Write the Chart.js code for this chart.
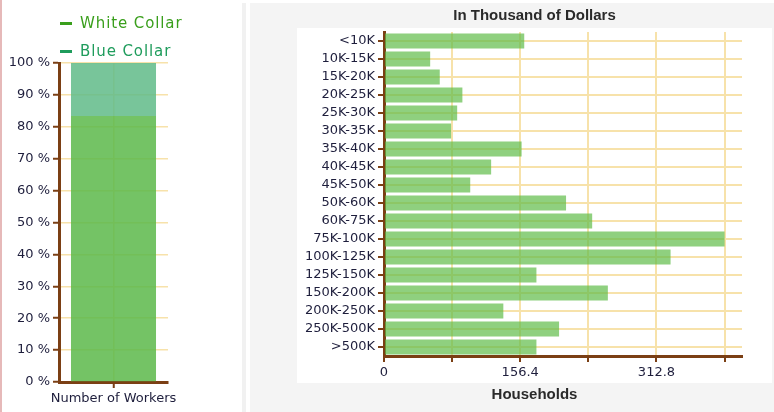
<!DOCTYPE html>
<html>
<head>
<meta charset="utf-8">
<script src="https://cdn.jsdelivr.net/npm/chart.js@4.4.0/dist/chart.umd.min.js"></script>
<style>
  body { margin: 0; width: 774px; height: 412px; background: #fff; position: relative; overflow: hidden; }
  #leftBox { position: absolute; left: 0; top: 0; width: 240px; height: 412px; background: #fff; }
  #leftEdge { position: absolute; left: 0; top: 0; width: 2px; height: 412px; background: #e6b9b9; z-index: 3; }
  #strip { position: absolute; left: 242px; top: 3px; width: 4px; height: 409px; background: #f1f1f1; }
  #panel { position: absolute; left: 250px; top: 3px; width: 524px; height: 409px; background: #f4f4f4; }
  #rightBox { position: absolute; left: 297px; top: 3px; width: 475px; height: 409px; }
  #legend { position: absolute; left: 60px; top: 12px; z-index: 2; font-family: "DejaVu Sans"; font-size: 15px; letter-spacing: 0.9px; }
  .item { position: relative; height: 28px; line-height: 22px; padding-left: 20px; white-space: nowrap; }
  .mark { position: absolute; left: 0; top: 10px; width: 12px; height: 3px; }
</style>
</head>
<body>
<div id="leftBox"><canvas id="workersChart"></canvas></div>
<div id="leftEdge"></div>
<div id="legend"></div>
<div id="strip"></div>
<div id="panel"></div>
<div id="rightBox"><canvas id="incomeChart"></canvas></div>

<script>
// left chart: share of workers
const workerLabels = ["Number of Workers"];
const seriesNames = ["White Collar", "Blue Collar"];
const whiteCollar = [83.4];
const blueCollar = [16.6];

// right chart: households by income band
const incomeBands = ["<10K", "10K-15K", "15K-20K", "20K-25K", "25K-30K", "30K-35K", "35K-40K",
  "40K-45K", "45K-50K", "50K-60K", "60K-75K", "75K-100K", "100K-125K", "125K-150K",
  "150K-200K", "200K-250K", "250K-500K", ">500K"];
const households = [161, 53, 64, 90, 84, 77, 158, 123, 99, 209, 239, 391, 329, 175, 257, 137, 201, 175];
const xStep = 78.2;
const xMax = 411;

const brown = "#7b3f14";
const gold = "#f7e2aa";
const tickText = "#1e1e3c";
const legendColors = ["#3a9f1c", "#1f9c5c"];

Chart.defaults.font.family = "DejaVu Sans";
Chart.defaults.font.size = 13;
Chart.defaults.color = tickText;

// legend as html
const legend = document.getElementById("legend");
seriesNames.forEach((name, i) => {
  const div = document.createElement("div");
  div.className = "item";
  div.style.color = legendColors[i];
  div.innerHTML = `<span class="mark" style="background:${legendColors[i]}"></span>${name}`;
  legend.appendChild(div);
});

const workersChart = new Chart(document.getElementById("workersChart"), {
  type: "bar",
  data: {
    labels: workerLabels,
    datasets: [
      { label: seriesNames[0], data: whiteCollar, backgroundColor: "rgba(92,184,74,0.85)", barPercentage: 0.78, categoryPercentage: 1 },
      { label: seriesNames[1], data: blueCollar, backgroundColor: "rgba(96,187,136,0.85)", barPercentage: 0.78, categoryPercentage: 1 }
    ]
  },
  options: {
    responsive: true,
    maintainAspectRatio: false,
    animation: false,
    layout: { padding: { top: 63, right: 72, left: 0, bottom: 0 } },
    plugins: { legend: { display: false }, tooltip: { enabled: false } },
    scales: {
      x: {
        stacked: true,
        grid: { offset: false, color: gold, lineWidth: 1.5, tickColor: brown, tickLength: 6, tickWidth: 2 },
        border: { color: brown, width: 3 },
        ticks: { padding: 3, maxRotation: 0 },
        afterFit: (s) => { s.height = 30; }
      },
      y: {
        stacked: true,
        min: 0,
        max: 100,
        ticks: { stepSize: 10, padding: 3, callback: (v) => v + " %" },
        grid: { color: gold, lineWidth: 1.5, tickColor: brown, tickLength: 6, tickWidth: 2 },
        border: { color: brown, width: 3 },
        afterFit: (s) => { s.width = 59; }
      }
    }
  }
});

// white plot box on the grey panel
const whiteBox = {
  id: "whiteBox",
  beforeDraw(chart) {
    const { ctx, chartArea } = chart;
    ctx.save();
    ctx.fillStyle = "#fff";
    ctx.fillRect(0, chartArea.top - 4, chart.width, chartArea.bottom - chartArea.top + 31);
    ctx.restore();
  }
};

const titleFont = { family: "Liberation Sans", size: 15, weight: "bold" };

const incomeChart = new Chart(document.getElementById("incomeChart"), {
  type: "bar",
  data: {
    labels: incomeBands,
    datasets: [{
      label: "Households",
      data: households,
      backgroundColor: "rgba(95,188,72,0.7)",
      barPercentage: 0.84,
      categoryPercentage: 1
    }]
  },
  options: {
    indexAxis: "y",
    responsive: true,
    maintainAspectRatio: false,
    animation: false,
    layout: { padding: 0 },
    plugins: {
      legend: { display: false },
      tooltip: { enabled: false },
      title: {
        display: true,
        text: "In Thousand of Dollars",
        color: "#2a2a2a",
        font: titleFont,
        padding: { top: 3.5, bottom: 7.5 }
      },
      subtitle: {
        display: true,
        position: "bottom",
        text: "Households",
        color: "#2a2a2a",
        font: titleFont,
        padding: { top: 2, bottom: 8 }
      }
    },
    scales: {
      x: {
        min: 0,
        max: xMax,
        ticks: {
          stepSize: xStep,
          includeBounds: false,
          autoSkip: false,
          maxRotation: 0,
          padding: 3,
          callback: (v, i) => (i % 2 === 0 ? String(Number(v.toFixed(1))) : "")
        },
        grid: { color: gold, lineWidth: 2, tickColor: brown, tickLength: 6, tickWidth: 2 },
        border: { color: brown, width: 3 },
        afterFit: (s) => { s.height = 28; }
      },
      y: {
        ticks: { autoSkip: false, padding: 3 },
        grid: { offset: false, color: gold, lineWidth: 2, tickColor: brown, tickLength: 6, tickWidth: 2 },
        border: { color: brown, width: 3 },
        afterFit: (s) => { s.width = 87; }
      },
      // empty space on the right of the plot
      yPad: {
        position: "right",
        display: true,
        grid: { display: false },
        ticks: { display: false },
        border: { display: false },
        afterFit: (s) => { s.width = 30; }
      }
    }
  },
  plugins: [whiteBox]
});
</script>
</body>
</html>
